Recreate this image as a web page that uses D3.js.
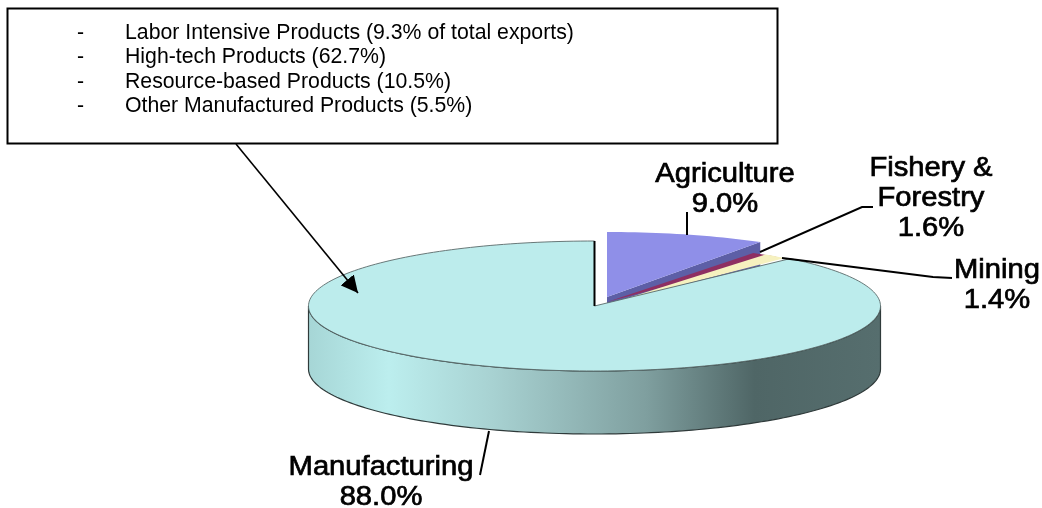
<!DOCTYPE html>
<html>
<head>
<meta charset="utf-8">
<script src="https://cdn.jsdelivr.net/npm/d3@7"></script>
<style>
  html, body { margin: 0; padding: 0; background: #fff; }
  svg { display: block; }
  text { font-family: "Liberation Sans", Arial, sans-serif; }
</style>
</head>
<body>
<div id="vis"></div>
<script>
// chart data
var sectors = ['Agriculture', 'Fishery & Forestry', 'Mining', 'Manufacturing'];
var shares  = [9.0, 1.6, 1.4, 88.0];
var shareLabels = ['9.0%', '1.6%', '1.4%', '88.0%'];
var noteItems = [
  'Labor Intensive Products (9.3% of total exports)',
  'High-tech Products (62.7%)',
  'Resource-based Products (10.5%)',
  'Other Manufactured Products (5.5%)'
];

var width = 1042, height = 508;
var cx = 594.5, cy = 306, rx = 286, ry = 65, depth = 63;

var topColors = ['#8f8fe8', '#8e2f62', '#f6f1bf', '#bcecec'];
var wallColors = ['#5d5fa6', '#6a2349', '#c9c59a', '#bcecec'];
// vertex = where the slice's point sits, rim = centre of its outer arc
var vertexShift = [[12.5, -9], [12.5, -4], [12.5, -1.5], [0, 0]];
var rimShift    = [[12.5, -9], [5.5, 2], [-5.5, -0.5], [0, 0]];

var svg = d3.select('#vis').append('svg')
  .attr('width', width)
  .attr('height', height);

var defs = svg.append('defs');
var wallGrad = defs.append('linearGradient')
  .attr('id', 'wall')
  .attr('gradientUnits', 'userSpaceOnUse')
  .attr('x1', cx - rx).attr('x2', cx + rx).attr('y1', 0).attr('y2', 0);
[[0, '#a6d6d6'], [0.14, '#bceeee'], [0.32, '#a8d2d2'], [0.59, '#7f9f9f'], [0.78, '#4f6666'], [1, '#566e6e']]
  .forEach(function(s) { wallGrad.append('stop').attr('offset', s[0]).attr('stop-color', s[1]); });

defs.append('marker')
  .attr('id', 'arrow')
  .attr('viewBox', '0 0 10 10')
  .attr('refX', 10).attr('refY', 5)
  .attr('markerWidth', 17).attr('markerHeight', 17)
  .attr('markerUnits', 'userSpaceOnUse')
  .attr('orient', 'auto')
  .append('path').attr('d', 'M0,0L10,5L0,10Z').attr('fill', '#000');

defs.append('filter').attr('id', 'soft')
  .append('feGaussianBlur').attr('stdDeviation', 0.45);

var pie = d3.pie().sort(null).value(function(d) { return d; });
var arcs = pie(shares);

function rimPoint(a, c) {
  return [c[0] + rx * Math.sin(a), c[1] - ry * Math.cos(a)];
}

function rimPoints(a0, a1, c) {
  var n = Math.max(2, Math.ceil((a1 - a0) * 40));
  return d3.range(n + 1).map(function(i) {
    return rimPoint(a0 + (a1 - a0) * i / n, c);
  });
}

var line = d3.line();

function topPath(d, i) {
  var v = [cx + vertexShift[i][0], cy + vertexShift[i][1]];
  var c = [cx + rimShift[i][0], cy + rimShift[i][1]];
  return line([v].concat(rimPoints(d.startAngle, d.endAngle, c))) + 'Z';
}

var pieGroup = svg.append('g');

// front wall of the big slice
var front = rimPoints(Math.PI / 2, Math.PI * 1.5, [cx, cy]);
var frontLow = front.map(function(p) { return [p[0], p[1] + depth]; }).reverse();
pieGroup.append('path')
  .attr('d', line(front.concat(frontLow)) + 'Z')
  .attr('fill', 'url(#wall)')
  .attr('stroke', '#2f3a3a')
  .attr('stroke-width', 1.2);

// cut face of agriculture, seen below its top and hidden further down by the big slice
var agri = arcs[0];
var agriV = [cx + vertexShift[0][0], cy + vertexShift[0][1]];
var agriC = [cx + rimShift[0][0], cy + rimShift[0][1]];
var agriEnd = rimPoint(agri.endAngle, agriC);
pieGroup.append('path')
  .attr('d', line([agriV, agriEnd, [agriEnd[0], agriEnd[1] + depth], [agriV[0], agriV[1] + depth]]) + 'Z')
  .attr('fill', wallColors[0]);

pieGroup.selectAll('path.slice')
  .data(arcs)
  .enter().append('path')
  .attr('class', 'slice')
  .attr('d', topPath)
  .attr('fill', function(d, i) { return topColors[i]; })
  .attr('stroke', function(d, i) { return i === 3 ? '#5a6a6a' : 'none'; })
  .attr('stroke-width', 0.9);

// black edge of the gap at twelve o'clock
pieGroup.append('line')
  .attr('x1', cx).attr('y1', cy - ry)
  .attr('x2', cx).attr('y2', cy)
  .attr('stroke', '#000').attr('stroke-width', 2);

// leader lines
var leaders = [
  [[687, 212], [687, 235]],
  [[760, 252], [862, 207], [873, 207]],
  [[782, 258], [933, 277], [952, 278]],
  [[489, 431], [480, 475]]
];
svg.append('g').selectAll('path')
  .data(leaders)
  .enter().append('path')
  .attr('d', function(d) { return line(d); })
  .attr('fill', 'none')
  .attr('stroke', '#000')
  .attr('stroke-width', 2);

// slice labels, the source text is a little wider than plain Arial
var labelStretch = 1.08;
var labelLines = [['Agriculture', shareLabels[0]], ['Fishery &', 'Forestry', shareLabels[1]], ['Mining', shareLabels[2]], ['Manufacturing', shareLabels[3]]];
var labelCentre = [725, 931, 997, 381];
var labelFirstBase = [182, 176, 278, 475];

var labels = svg.append('g')
  .attr('filter', 'url(#soft)')
  .attr('text-anchor', 'middle')
  .style('font-size', '27px')
  .style('stroke', '#000')
  .style('stroke-width', 0.7);
labels.selectAll('text')
  .data(labelLines)
  .enter().append('text')
  .attr('transform', 'scale(' + labelStretch + ',1)')
  .attr('y', function(d, i) { return labelFirstBase[i]; })
  .selectAll('tspan')
  .data(function(d, i) { return d.map(function(t) { return { t: t, i: i }; }); })
  .enter().append('tspan')
  .attr('x', function(d) { return labelCentre[d.i] / labelStretch; })
  .attr('dy', function(d, j) { return j === 0 ? 0 : 30; })
  .text(function(d) { return d.t; });

// note box with its arrow
svg.append('rect')
  .attr('x', 7.5).attr('y', 8.5)
  .attr('width', 770).attr('height', 135)
  .attr('fill', '#fff')
  .attr('stroke', '#000')
  .attr('stroke-width', 2);

svg.append('line')
  .attr('x1', 236).attr('y1', 144)
  .attr('x2', 358).attr('y2', 293)
  .attr('stroke', '#000')
  .attr('stroke-width', 1.6)
  .attr('marker-end', 'url(#arrow)');

var noteBase = d3.scaleLinear().domain([0, 3]).range([39, 112]);
var note = svg.append('g')
  .attr('filter', 'url(#soft)')
  .style('font-size', '21.25px')
  .attr('fill', '#000');
note.selectAll('text.dash')
  .data(noteItems)
  .enter().append('text')
  .attr('class', 'dash')
  .attr('x', 77)
  .attr('y', function(d, i) { return noteBase(i); })
  .text('-');
note.selectAll('text.item')
  .data(noteItems)
  .enter().append('text')
  .attr('class', 'item')
  .attr('x', 125)
  .attr('y', function(d, i) { return noteBase(i); })
  .text(function(d) { return d; });
</script>
</body>
</html>
